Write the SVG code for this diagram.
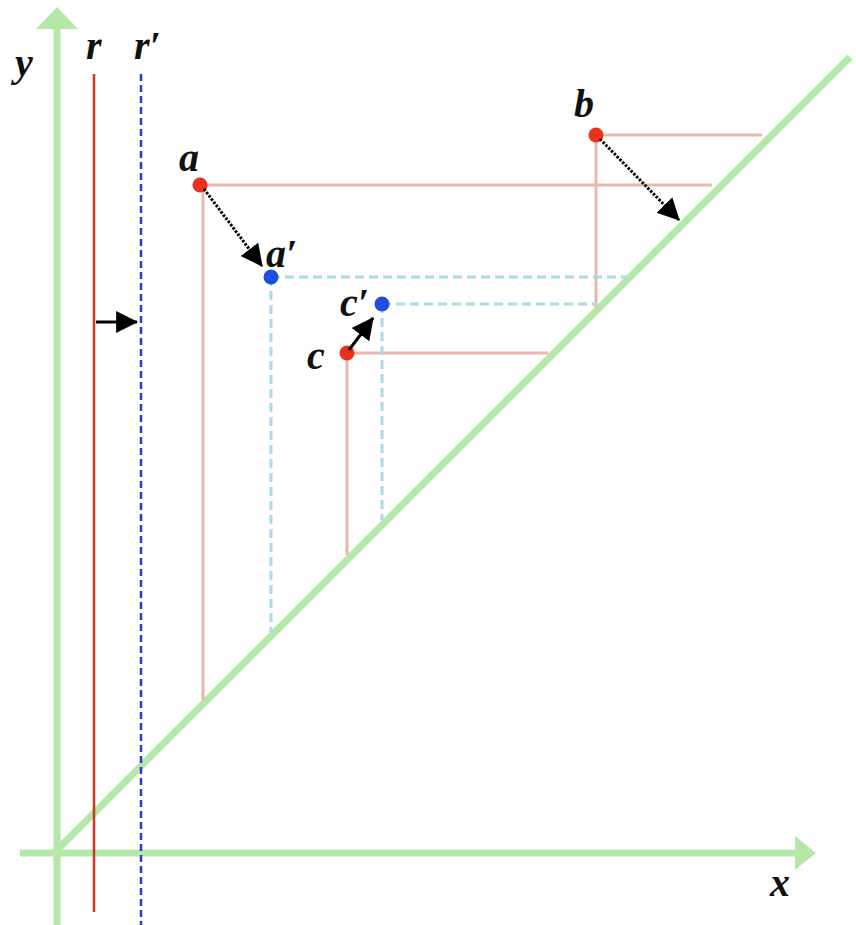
<svg xmlns="http://www.w3.org/2000/svg" width="856" height="925" viewBox="0 0 856 925">
<style>
.axis{stroke:#b5e8a8;stroke-width:7;fill:none}
.axhead{fill:#b5e8a8}
.guide{stroke:#e8b8aa;stroke-width:3;fill:none}
.guide2{stroke:#a8dcea;stroke-width:3;fill:none;stroke-dasharray:9 5}
.lbl{font-family:"Liberation Serif",serif;font-weight:bold;font-style:italic;font-size:40px;fill:#111}
.mv{stroke:#000;stroke-width:3;fill:none;stroke-dasharray:2.5 1.5}
.red{fill:#e8321e}
.blue{fill:#1f4fe0}
</style>
<defs>
<marker id="big" viewBox="0 0 10 10" refX="9.5" refY="5" markerWidth="22" markerHeight="24" orient="auto" markerUnits="userSpaceOnUse">
<path d="M0,0 L10,5 L0,10 Z" fill="#000"/>
</marker>
</defs>
<rect width="856" height="925" fill="#fff"/>
<g id="axes">
<line class="axis" x1="57" y1="925" x2="57" y2="26"/>
<polygon class="axhead" points="57,7 36,29 78,29"/>
<line class="axis" x1="20" y1="853" x2="797" y2="853"/>
<polygon class="axhead" points="816,853 795,836 795,870"/>
<line class="axis" x1="55" y1="852" x2="850" y2="57" stroke-width="6"/>
<text class="lbl" x="15" y="76">y</text>
<text class="lbl" x="770" y="896">x</text>
</g>
<g id="r">
<line x1="94" y1="74" x2="94" y2="912" stroke="#cc3a22" stroke-width="2.5"/>
<text class="lbl" x="86" y="59">r</text>
</g>
<g id="r-prime">
<line x1="141" y1="74" x2="141" y2="925" stroke="#2a3fbf" stroke-width="2.5" stroke-dasharray="7 4"/>
<text class="lbl" x="134" y="59">r′</text>
</g>
<g id="a">
<line class="guide" x1="200" y1="185" x2="712" y2="185"/>
<line class="guide" x1="203" y1="185" x2="203" y2="700"/>
<circle class="red" cx="200" cy="185" r="7.5"/>
<text class="lbl" x="179" y="171">a</text>
</g>
<g id="b">
<line class="guide" x1="596" y1="135" x2="762" y2="135"/>
<line class="guide" x1="596" y1="135" x2="596" y2="308"/>
<circle class="red" cx="596" cy="135" r="7.5"/>
<text class="lbl" x="574" y="117">b</text>
</g>
<g id="c">
<line class="guide" x1="347" y1="353" x2="548" y2="353"/>
<line class="guide" x1="347" y1="353" x2="347" y2="555"/>
<circle class="red" cx="347" cy="353" r="7.5"/>
<text class="lbl" x="307" y="369">c</text>
</g>
<g id="a-prime">
<line class="guide2" x1="271" y1="277" x2="628" y2="277"/>
<line class="guide2" x1="271" y1="277" x2="271" y2="632"/>
<circle class="blue" cx="271" cy="277" r="7.5"/>
<text class="lbl" x="266" y="267">a′</text>
</g>
<g id="c-prime">
<line class="guide2" x1="382" y1="304" x2="597" y2="304"/>
<line class="guide2" x1="382" y1="304" x2="382" y2="520" stroke-dasharray="4 4"/>
<circle class="blue" cx="382" cy="304" r="7.5"/>
<text class="lbl" x="340" y="316">c′</text>
</g>
<g id="connectors">
<line class="mv" x1="204" y1="189" x2="262" y2="266" marker-end="url(#big)"/>
<line class="mv" x1="600" y1="139" x2="679" y2="220" marker-end="url(#big)"/>
<line x1="349" y1="350" x2="373" y2="318" stroke="#000" stroke-width="3" marker-end="url(#big)"/>
<line x1="96" y1="322" x2="137" y2="322" stroke="#000" stroke-width="3" marker-end="url(#big)"/>
</g>
</svg>
